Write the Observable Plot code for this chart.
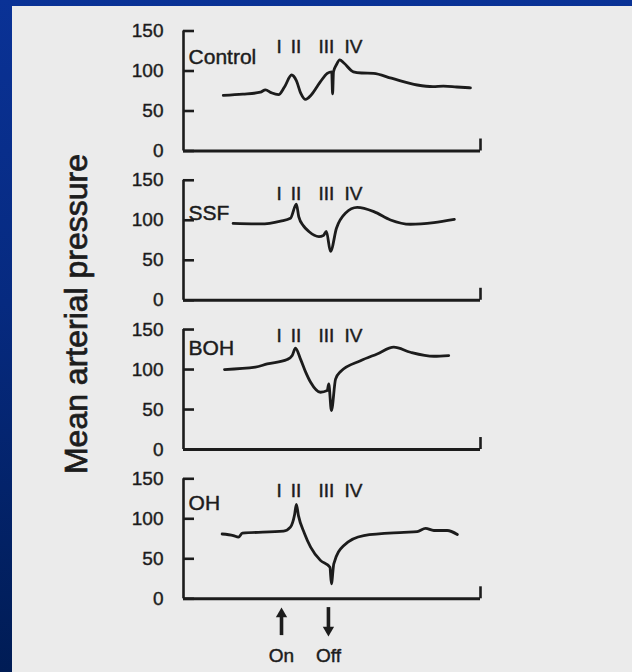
<!DOCTYPE html>
<html>
<head>
<meta charset="utf-8">
<script src="https://cdn.jsdelivr.net/npm/d3@7"></script>
<script src="https://cdn.jsdelivr.net/npm/@observablehq/plot@0.6"></script>
<style>
  html, body { margin: 0; padding: 0; }
  body {
    width: 632px; height: 672px; overflow: hidden; position: relative;
    background: linear-gradient(to bottom, #0a3296 0%, #062a80 45%, #001c55 100%);
    font-family: "Liberation Sans", Arial, sans-serif;
  }
  #page {
    position: absolute; left: 12px; top: 6px; right: 0; bottom: 0;
    background: #ebebeb;
  }
  #chart { position: absolute; left: 0; top: 0; }
  #chart svg g[aria-label="y-axis tick label"] text { stroke: #1c1c1c; stroke-width: 0.4px; }
  #ytitle {
    position: absolute; left: 76px; top: 314px;
    transform: translate(-50%, -50%) rotate(-90deg);
    white-space: nowrap; font-size: 32px; color: #1c1c1c; line-height: 1;
    -webkit-text-stroke: 0.7px #1c1c1c;
  }
</style>
</head>
<body>
<div id="page"></div>
<div id="chart"></div>
<div id="ytitle">Mean arterial pressure</div>
<script>
// ---- data (time in arbitrary units 0–100 along the trace, pressure in mmHg) ----
const panels = ["Control", "SSF", "BOH", "OH"];
const yTicks = [0, 50, 100, 150];
const phaseNames = ["I", "II", "III", "IV"];
const phaseTimes = [32.2, 37.9, 48.1, 57.2];
const events = ["On", "Off"];
const eventTimes = [33, 48.8];

const controlT = [13.4, 20, 25.9, 27.6, 29.5, 32, 34, 36.4, 38, 39.5, 41.1, 43, 46, 48.4, 49.9, 50.2, 50.5, 51.5, 52.6, 54, 57.2, 60, 64, 70, 78.7, 84, 87.5, 92, 96.6];
const controlV = [69.5, 71, 73.5, 76.5, 73, 70.5, 80, 95, 88, 72, 64.5, 70, 86, 97, 99, 71.5, 99, 108, 114, 110, 99, 97.5, 97, 91, 82.5, 80.5, 81, 80, 79];

const ssfT = [16.7, 25.9, 32.7, 36, 38, 38.8, 40.4, 42.2, 45.6, 47.1, 48.1, 49.5, 51.5, 54.5, 58.5, 64.1, 69.7, 76.4, 84.3, 91.2];
const ssfV = [96, 95.4, 99, 102.5, 120, 104.6, 93, 86, 79.6, 81, 86, 61, 90, 108.7, 116, 110.8, 100.4, 95, 97, 101];

const bohT = [13.8, 24.2, 28.2, 34.9, 36.6, 37.7, 39.4, 41.1, 42.8, 46.1, 48.4, 48.9, 49.8, 51.2, 52.9, 59.6, 65.2, 70.8, 76.4, 84.3, 89.3];
const bohV = [100, 102.9, 107, 112.5, 117.5, 126.6, 113, 97, 84, 71.6, 73.7, 82, 48.7, 88, 97.5, 111, 119.5, 127.9, 121.6, 116.6, 117.5];

const ohT = [13, 16.8, 18.5, 19.8, 33.7, 36, 37.4, 38, 38.7, 40.7, 42.8, 46.1, 49.3, 49.8, 50.6, 54, 60.7, 74.2, 78.7, 81.5, 84.3, 88.8, 92.2];
const ohV = [81, 79, 77, 82, 84.5, 89.5, 105, 118, 104, 82, 64.5, 48, 39.5, 18.7, 43.7, 66.6, 79, 83, 84, 88, 85.4, 85.4, 80.4];

// ---- layout (label placement inside each panel, in axis units) ----
const nameY  = {Control: 117, SSF: 109, BOH: 126, OH: 119};
const phaseY = {Control: 130, SSF: 133, BOH: 141.6, OH: 134.5};
const ink = "#1c1c1c";
const textStyle = {fontSize: 19, fill: ink, stroke: ink, strokeWidth: 0.45};

const series = {Control: [controlT, controlV], SSF: [ssfT, ssfV], BOH: [bohT, bohV], OH: [ohT, ohV]};
const rows = panels.flatMap(p => series[p][0].map((t, i) => ({panel: p, t, v: series[p][1][i]})));
const phaseRows = panels.flatMap(p => phaseNames.map((n, i) => ({panel: p, name: n, t: phaseTimes[i], y: phaseY[p]})));
const nameRows = panels.map(p => ({panel: p, y: nameY[p]}));
const eventRows = events.map((e, i) => ({panel: "OH", name: e, t: eventTimes[i], up: e === "On"}));

const chart = Plot.plot({
  width: 632,
  height: 672,
  marginLeft: 183,
  marginRight: 152,
  marginTop: 30.5,
  marginBottom: 73.7,
  x: {domain: [0, 100], axis: null},
  y: {domain: [0, 150]},
  fy: {domain: panels, paddingInner: 0.196, paddingOuter: 0, axis: null, round: false},
  style: {background: "transparent", fontFamily: "Liberation Sans, Arial, sans-serif", color: ink, overflow: "visible"},
  marks: [
    Plot.axisY({ticks: yTicks, tickSize: -11, tickPadding: 31, strokeWidth: 2.6, fontSize: 19, label: null, stroke: ink, fill: ink}),
    Plot.ruleX([0], {stroke: ink, strokeWidth: 2.6}),
    Plot.ruleY([0], {stroke: ink, strokeWidth: 2.9}),
    Plot.ruleX([100], {y1: 0, y2: 15, stroke: ink, strokeWidth: 2.6}),
    Plot.line(rows, {x: "t", y: "v", fy: "panel", curve: "monotone-x", stroke: ink, strokeWidth: 2.8, strokeLinejoin: "round"}),
    Plot.text(nameRows, {x: 1.7, y: "y", fy: "panel", text: "panel", textAnchor: "start", ...textStyle, fontSize: 21}),
    Plot.text(phaseRows, {x: "t", y: "y", fy: "panel", text: "name", ...textStyle}),
    // On / Off arrows under the last panel
    Plot.ruleX(eventRows, {x: "t", fy: "panel", y1: d => d.up ? -18.4 : -11, y2: d => d.up ? -46 : -38.5, stroke: ink, strokeWidth: 3.6}),
    Plot.dot(eventRows, {x: "t", fy: "panel", y: d => d.up ? -19.1 : -38.9, symbol: "triangle", r: 4.2, fill: ink, stroke: "none", rotate: d => d.up ? 0 : 180}),
    Plot.text(eventRows, {x: "t", fy: "panel", y: -72, text: "name", ...textStyle})
  ]
});
document.getElementById("chart").appendChild(chart);
</script>
</body>
</html>
